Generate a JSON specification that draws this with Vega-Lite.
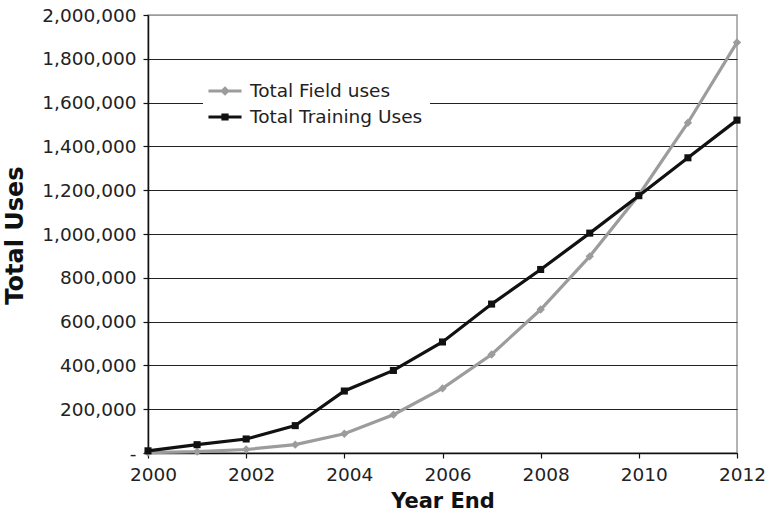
{
  "$schema": "https://vega.github.io/schema/vega-lite/v6.json",
  "width": 589,
  "height": 438,
  "autosize": {"type": "none"},
  "padding": {"left": 148, "top": 15, "right": 32, "bottom": 62},
  "background": "white",
  "config": {
    "font": "DejaVu Sans",
    "view": {"stroke": "#9a9a9a", "strokeWidth": 1.5},
    "axis": {
      "labelFont": "DejaVu Sans",
      "labelFontSize": 18.5,
      "labelColor": "#222222",
      "titleFont": "DejaVu Sans",
      "titleFontWeight": "bold",
      "titleColor": "#111111",
      "domainColor": "#111111",
      "domainWidth": 1.5,
      "tickColor": "#111111",
      "tickSize": 5,
      "tickWidth": 1.2
    }
  },
  "data": {
    "values": [
      {"year": 2000, "series": "Total Field uses", "uses": 2000},
      {"year": 2001, "series": "Total Field uses", "uses": 6000},
      {"year": 2002, "series": "Total Field uses", "uses": 16000},
      {"year": 2003, "series": "Total Field uses", "uses": 38000},
      {"year": 2004, "series": "Total Field uses", "uses": 88000},
      {"year": 2005, "series": "Total Field uses", "uses": 175000},
      {"year": 2006, "series": "Total Field uses", "uses": 295000},
      {"year": 2007, "series": "Total Field uses", "uses": 450000},
      {"year": 2008, "series": "Total Field uses", "uses": 655000},
      {"year": 2009, "series": "Total Field uses", "uses": 898000},
      {"year": 2010, "series": "Total Field uses", "uses": 1178000},
      {"year": 2011, "series": "Total Field uses", "uses": 1508000},
      {"year": 2012, "series": "Total Field uses", "uses": 1875000},
      {"year": 2000, "series": "Total Training Uses", "uses": 10000},
      {"year": 2001, "series": "Total Training Uses", "uses": 38000},
      {"year": 2002, "series": "Total Training Uses", "uses": 64000},
      {"year": 2003, "series": "Total Training Uses", "uses": 125000},
      {"year": 2004, "series": "Total Training Uses", "uses": 283000},
      {"year": 2005, "series": "Total Training Uses", "uses": 377000},
      {"year": 2006, "series": "Total Training Uses", "uses": 507000},
      {"year": 2007, "series": "Total Training Uses", "uses": 680000},
      {"year": 2008, "series": "Total Training Uses", "uses": 838000},
      {"year": 2009, "series": "Total Training Uses", "uses": 1004000},
      {"year": 2010, "series": "Total Training Uses", "uses": 1175000},
      {"year": 2011, "series": "Total Training Uses", "uses": 1348000},
      {"year": 2012, "series": "Total Training Uses", "uses": 1520000}
    ]
  },
  "encoding": {
    "x": {
      "field": "year",
      "type": "quantitative",
      "scale": {"domain": [2000, 2012], "nice": false, "zero": false},
      "axis": {
        "title": "Year End",
        "titleFontSize": 21,
        "values": [2000, 2002, 2004, 2006, 2008, 2010, 2012],
        "format": "d",
        "grid": false,
        "labelFlush": false,
        "labelPadding": 7,
        "labelOffset": 5,
        "titleX": 294.5,
        "titleY": 48,
        "titleBaseline": "middle",
        "titleAlign": "center"
      }
    },
    "y": {
      "field": "uses",
      "type": "quantitative",
      "scale": {"domain": [0, 2000000], "nice": false},
      "axis": {
        "title": "Total Uses",
        "titleFontSize": 24,
        "values": [0, 200000, 400000, 600000, 800000, 1000000, 1200000, 1400000, 1600000, 1800000, 2000000],
        "labelExpr": "datum.value === 0 ? '-' : format(datum.value, ',')",
        "labelPadding": 7,
        "grid": true,
        "gridColor": {"condition": {"test": "datum.value === 2000000", "value": "#9a9a9a"}, "value": "#222222"},
        "gridWidth": 1.2,
        "titleAngle": -90,
        "titleX": -133,
        "titleY": 220,
        "titleAlign": "center",
        "titleBaseline": "middle"
      }
    },
    "color": {
      "field": "series",
      "type": "nominal",
      "scale": {"domain": ["Total Field uses", "Total Training Uses"], "range": ["#9c9c9c", "#111111"]},
      "legend": {
        "title": null,
        "orient": "none",
        "legendX": 55,
        "legendY": 54,
        "fillColor": "white",
        "padding": 7,
        "labelFont": "DejaVu Sans",
        "labelFontSize": 18.5,
        "labelColor": "#222222",
        "labelOffset": 10,
        "labelLimit": 400,
        "symbolSize": 700,
        "symbolStrokeWidth": 3,
        "rowPadding": 1,
        "encode": {
          "symbols": {
            "update": {
              "shape": {"signal": "datum.value === 'Total Field uses' ? 'M-1.25,0H1.25M0,-0.2L0.2,0L0,0.2L-0.2,0Z' : 'M-1.25,0H1.25M-0.16,-0.16H0.16V0.16H-0.16Z'"},
              "fill": {"signal": "datum.value === 'Total Field uses' ? '#9c9c9c' : '#111111'"},
              "stroke": {"signal": "datum.value === 'Total Field uses' ? '#9c9c9c' : '#111111'"},
              "strokeWidth": {"value": 3},
              "opacity": {"value": 1}
            }
          }
        }
      }
    }
  },
  "layer": [
    {
      "mark": {"type": "line", "strokeWidth": 3.2}
    },
    {
      "transform": [{"filter": "datum.series === 'Total Field uses'"}],
      "mark": {"type": "point", "filled": true, "opacity": 1, "shape": "diamond", "size": 70}
    },
    {
      "transform": [{"filter": "datum.series === 'Total Training Uses'"}],
      "mark": {"type": "point", "filled": true, "opacity": 1, "shape": "square", "size": 50}
    }
  ]
}
